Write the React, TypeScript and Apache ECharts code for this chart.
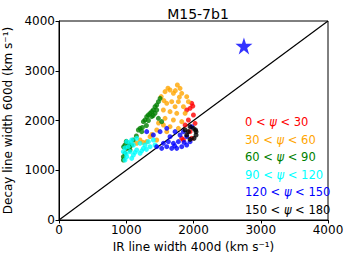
import React, { useEffect, useRef } from "react";
import * as echarts from "echarts";

const TITLE = "M15-7b1";
const X_NAME = "IR line width 400d (km s\u207B\u00B9)";
const Y_NAME = "Decay line width 600d (km s\u207B\u00B9)";

const psi0_30: number[][] = [
  [1974, 2345], [1949, 2245], [1899, 2211], [1999, 2110], [1924, 2010], [2023, 1943],
  [1875, 1910], [1949, 1776], [1825, 1641], [1850, 1608], [1974, 1641], [1990, 2290],
];
const psi30_60: number[][] = [
  [1577, 2580], [1651, 2613], [1701, 2546], [1760, 2713], [1800, 2646], [1825, 2546],
  [1899, 2479], [1676, 2378], [1775, 2378], [1602, 2345], [1726, 2278], [1850, 2278],
  [1924, 2378], [1552, 2211], [1651, 2178], [1751, 2144], [1875, 2144], [1577, 2044],
  [1701, 2010], [1825, 1977], [1552, 1910], [1651, 1876], [1775, 1843], [1453, 1809],
  [1602, 1776], [1354, 1675], [1453, 1608], [1304, 1575], [1205, 1608], [1155, 1541],
  [1620, 2650], [1730, 2600], [1520, 2480], [1790, 2470], [1560, 2400], [1480, 1950],
  [1380, 1720], [1250, 1560],
];
const psi60_90: number[][] = [
  [1503, 2445], [1478, 2378], [1453, 2311], [1428, 2278], [1403, 2211], [1379, 2178],
  [1354, 2144], [1329, 2110], [1304, 2077], [1379, 2077], [1279, 2010], [1428, 2144],
  [1453, 2211], [1255, 1977], [1205, 1843], [1180, 1809], [1230, 1776], [1106, 1608],
  [1031, 1541], [981, 1508], [1007, 1440], [981, 1340], [957, 1273], [1056, 1407],
  [1081, 1508], [957, 1206], [1527, 1977], [1478, 2044], [1330, 2000], [1400, 2100],
  [1300, 1900], [1240, 1860], [1000, 1580], [960, 1470], [1050, 1470], [1150, 1690],
];
const psi90_120: number[][] = [
  [1007, 1575], [1081, 1608], [1155, 1641], [1031, 1474], [1106, 1508], [1205, 1541],
  [1279, 1508], [1329, 1575], [1056, 1374], [1155, 1407], [1255, 1440], [1354, 1474],
  [1428, 1508], [1007, 1273], [1106, 1306], [1205, 1340], [981, 1206], [1081, 1239],
  [957, 1374], [1403, 1608], [1000, 1330], [1130, 1360], [1230, 1390], [980, 1450],
  [1300, 1420], [1060, 1560],
];
const psi120_150: number[][] = [
  [1304, 1776], [1403, 1709], [1503, 1776], [1602, 1843], [1726, 1776], [1651, 1675],
  [1552, 1541], [1602, 1474], [1676, 1440], [1751, 1440], [1825, 1474], [1899, 1508],
  [1949, 1575], [1775, 1575], [1850, 1776], [1800, 1709], [1899, 1675], [1974, 1876],
  [1701, 1541], [1626, 1575], [1453, 1474], [1527, 1440], [1720, 1490], [1860, 1560],
];
const psi150_180: number[][] = [
  [1949, 1876], [1999, 1843], [2038, 1776], [2038, 1709], [2008, 1641], [1949, 1621],
  [1899, 1709], [1875, 1809], [1924, 1776], [2030, 1810],
];
const STAR: number[][] = [[2750, 3500]];
const DIAGONAL: number[][] = [[0, 0], [4000, 4000]];

const GROUPS = [
  { lo: "0", hi: "30", color: "#ff0000", data: psi0_30 },
  { lo: "30", hi: "60", color: "#ffa500", data: psi30_60 },
  { lo: "60", hi: "90", color: "#008000", data: psi60_90 },
  { lo: "90", hi: "120", color: "#00ffff", data: psi90_120 },
  { lo: "120", hi: "150", color: "#0000ff", data: psi120_150 },
  { lo: "150", hi: "180", color: "#000000", data: psi150_180 },
];

const FONT = "DejaVu Sans";

export default function App() {
  const ref = useRef<HTMLDivElement>(null);
  useEffect(() => {
    if (!ref.current) return;
    const chart = echarts.init(ref.current, null, { renderer: "svg" });
    const axisCommon = {
      type: "value",
      min: 0,
      max: 4000,
      interval: 1000,
      nameLocation: "middle",
      nameTextStyle: { fontFamily: FONT, fontSize: 12, color: "#000" },
      axisLine: { show: true, onZero: false, lineStyle: { color: "#000", width: 1 } },
      axisTick: { show: true, inside: false, length: 3.5, lineStyle: { color: "#000" } },
      axisLabel: {
        fontFamily: FONT, fontSize: 12, color: "#000", margin: 4,
        formatter: (v: number) => String(v),
      },
      splitLine: { show: false },
    };
    chart.setOption({
      animation: false,
      backgroundColor: "#fff",
      title: {
        text: TITLE,
        left: 193,
        top: 2,
        textAlign: "center",
        textStyle: { fontFamily: FONT, fontSize: 14, fontWeight: "normal", color: "#000" },
      },
      grid: {
        left: 59, right: 21, top: 21, bottom: 40,
        containLabel: false,
        outerBoundsMode: "none",
        show: true, borderColor: "#000", borderWidth: 1, backgroundColor: "transparent",
      },
      xAxis: { ...axisCommon, name: X_NAME, nameGap: 20 },
      yAxis: { ...axisCommon, name: Y_NAME, nameGap: 41 },
      graphic: GROUPS.map((g, i) => ({
        type: "text",
        left: 245,
        top: 116 + i * 17.6,
        style: {
          text: `{n|${g.lo} < }{p|\u03C8}{n| < ${g.hi}}`,
          fill: g.color,
          font: `11.5px ${FONT}`,
          rich: {
            n: { fill: g.color, fontFamily: FONT, fontSize: 11.5 },
            p: { fill: g.color, fontFamily: FONT, fontSize: 11.5, fontStyle: "italic" },
          },
        },
      })),
      series: [
        {
          type: "line",
          data: DIAGONAL,
          symbol: "none",
          lineStyle: { color: "#000", width: 1.2 },
          z: 1,
        },
        ...GROUPS.map((g) => ({
          type: "scatter",
          data: g.data,
          symbolSize: 5,
          itemStyle: { color: g.color },
          z: 2,
        })),
        {
          type: "scatter",
          data: STAR,
          symbol: "path://M50,0 L61.2,34.5 L97.6,34.5 L68.2,55.9 L79.4,90.5 L50,69.1 L20.6,90.5 L31.8,55.9 L2.4,34.5 L38.8,34.5 Z",
          symbolSize: 17,
          itemStyle: { color: "#0000ff" },
          z: 3,
        },
      ],
    });
    return () => chart.dispose();
  }, []);
  return <div ref={ref} style={{ width: 349, height: 260, position: "absolute", left: 0, top: 0 }} />;
}
